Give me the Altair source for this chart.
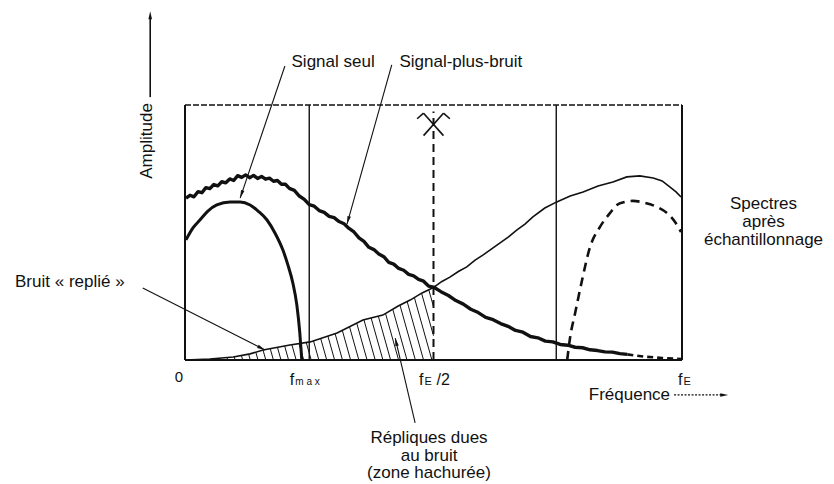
import math
import altair as alt
import numpy as np
import pandas as pd

FONT = "Liberation Sans"
INK = "#111111"

# frequency in % of fE, amplitude in % of box height
sn_f = [0.2, 1.0, 1.8, 2.6, 3.4, 4.2, 5.0, 5.8, 6.6, 7.4, 8.2, 9.0, 9.8, 10.6, 11.4, 12.2, 13.0, 13.8,
        14.6, 15.4, 16.2, 17.0, 17.8, 18.6, 19.4, 20.2, 21.0, 22.0, 23.0, 24.0, 25.0, 26.0, 27.0, 28.0,
        29.0, 30.0, 31.0, 32.0, 33.0, 34.0, 35.0, 36.0, 37.0, 38.0, 39.0, 40.0, 41.0, 42.0, 43.0, 44.0,
        45.0, 46.0, 47.0, 48.0, 49.0, 50.0, 51.5, 53.0, 54.5, 56.0, 57.5, 59.0, 60.5, 62.0, 63.5, 65.0,
        66.5, 68.0, 69.5, 71.0, 72.5, 74.0, 75.5, 77.0, 78.5, 80.0, 81.5, 83.0, 84.5, 86.0, 87.5, 89.0]
sn_a = [63.5, 64.6, 64.0, 66.0, 65.6, 67.6, 67.2, 68.8, 68.3, 69.9, 69.5, 71.0, 70.4, 72.3, 71.6, 72.6, 71.5, 72.4,
        71.2, 72.0, 70.9, 71.3, 70.1, 70.4, 68.9, 68.9, 67.3, 66.5, 64.3, 63.0, 60.9, 60.3, 58.6, 57.9,
        56.3, 55.8, 54.3, 53.4, 51.6, 50.2, 47.9, 46.5, 44.2, 43.3, 41.6, 40.5, 38.3, 37.6, 35.9, 35.2,
        33.6, 33.0, 31.6, 30.9, 29.0, 28.6, 26.8, 25.3, 23.3, 21.9, 19.9, 18.6, 16.7, 15.8, 14.3, 13.2,
        11.6, 10.9, 9.2, 8.7, 7.4, 7.1, 6.1, 5.8, 5.0, 4.8, 4.0, 3.7, 3.2, 3.1, 2.5, 2.2]
tail_f = [89.0, 92.5, 96.0, 100.0]
tail_a = [2.2, 1.3, 0.8, 0.4]

mir_f = [50.1, 51.7, 53.3, 55.0, 56.7, 58.3, 60.0, 61.7, 63.4, 65.1, 66.8, 68.4, 70.0, 72.4, 74.8,
         77.5, 80.1, 83.1, 86.1, 88.9, 91.5, 94.2, 96.0, 97.6, 98.8, 99.8]
mir_a = [28.6, 30.8, 32.5, 34.7, 36.5, 39.1, 41.2, 43.6, 45.9, 48.3, 51.0, 53.3, 56.1, 59.6, 62.0,
         64.3, 65.9, 68.2, 69.8, 71.8, 72.2, 71.4, 70.2, 67.8, 65.9, 63.9]

ss_f = [0.2, 1.6, 3.0, 4.6, 6.4, 9.1, 11.1, 13.1, 14.7, 16.5, 18.1, 19.7, 20.7, 21.7, 22.5, 23.1, 23.5]
ss_a = [47.1, 51.8, 54.9, 58.4, 60.8, 62.0, 62.0, 60.8, 58.4, 54.9, 49.8, 43.1, 37.3, 30.2, 21.6, 10.6, 0.0]

rep_f = [76.9, 77.5, 78.5, 79.9, 81.5, 83.5, 85.5, 86.9, 88.5, 90.1, 92.6, 95.0, 97.0, 98.6, 99.8]
rep_a = [0.0, 9.0, 18.4, 31.4, 44.3, 52.2, 57.6, 60.8, 62.0, 62.4, 61.6, 60.0, 57.6, 54.1, 50.2]

hat_f = [0.0, 5.0, 9.7, 13.1, 15.7, 21.1, 25.2, 30.6, 35.8, 39.8, 42.9, 45.3, 47.7, 50.0]
hat_a = [0.0, 0.4, 1.2, 2.4, 3.9, 5.9, 7.1, 10.6, 15.7, 17.6, 21.2, 23.5, 26.3, 28.4]

# frame segments (x, y, x2, y2)
frame_x = [0, 100, 25, 74.7, 0]
frame_y = [0, 0, 0, 0, 0]
frame_x2 = [0, 100, 25, 74.7, 100]
frame_y2 = [100, 100, 100, 100, 0]
frame_w = [2.0, 2.0, 1.4, 1.4, 2.0]

# fold symbol at fE/2
sym_x = [48.0, 52.0, 48.0, 52.0]
sym_y = [96.8, 96.8, 96.8, 96.8]
sym_x2 = [52.0, 48.0, 46.7, 53.3]
sym_y2 = [88.0, 88.0, 94.6, 94.6]

# leader lines: start -> arrow tip
lead_x1 = [20.1, 41.6, -8.5, 46.3, -7.0]
lead_y1 = [115.3, 115.7, 28.2, -24.7, 103.1]
lead_x2 = [11.1, 32.6, 16.1, 42.3, -7.0]
lead_y2 = [63.5, 53.3, 3.9, 8.6, 136.8]

freq_arrow = [98.4, -13.7, 109.3]  # x1, y, x_tip

PXX, PXY = 4.97, 2.55
W, H = 497, 255

xs = alt.Scale(domain=[0, 100], nice=False, zero=False)
ys = alt.Scale(domain=[0, 100], nice=False, zero=False)
X = alt.X("x:Q", scale=xs, axis=None)
Y = alt.Y("y:Q", scale=ys, axis=None)


def line(fx, ay, **mk):
    df = pd.DataFrame({"x": fx, "y": ay, "i": range(len(fx))})
    return alt.Chart(df).mark_line(color=INK, **mk).encode(x=X, y=Y, order="i:Q")


def rules(x1, y1, x2, y2, **mk):
    df = pd.DataFrame({"x": x1, "y": y1, "x2": x2, "y2": y2})
    return alt.Chart(df).mark_rule(color=INK, **mk).encode(x=X, y=Y, x2="x2:Q", y2="y2:Q")


def texts(rows, **mk):
    df = pd.DataFrame(rows, columns=["x", "y", "t"])
    base = dict(font=FONT, color=INK)
    base.update(mk)
    return alt.Chart(df).mark_text(**base).encode(x=X, y=Y, text="t:N")


layers = []

# frame
frame_df = pd.DataFrame({"x": frame_x, "y": frame_y, "x2": frame_x2, "y2": frame_y2, "w": frame_w})
layers.append(alt.Chart(frame_df).mark_rule(color=INK).encode(
    x=X, y=Y, x2="x2:Q", y2="y2:Q", strokeWidth=alt.StrokeWidth("w:Q", scale=None)))
layers.append(rules([0], [100], [100], [100], strokeWidth=1.3, strokeDash=[6, 2]))

# hatching under the folded-noise curve
hf = np.array(hat_f)
ha = np.array(hat_a)
tops = np.arange(1.2, 50.0, 1.45)
hx1, hy1, hx2, hy2 = [], [], [], []
for xt in tops:
    at = float(np.interp(xt, hf, ha))
    xb = xt + 0.144 * at
    if xb > 50.0:
        t = (50.0 - xt) / (xb - xt)
        hx2.append(50.0)
        hy2.append(at * (1 - t))
    else:
        hx2.append(xb)
        hy2.append(0.0)
    hx1.append(xt)
    hy1.append(at)
layers.append(rules(hx1, hy1, hx2, hy2, strokeWidth=1.0))
layers.append(line(hat_f, hat_a, strokeWidth=1.6))

# dashed fE/2 line and fold symbol
layers.append(rules([50], [0], [50], [97.5], strokeWidth=2, strokeDash=[8, 5]))
layers.append(rules(sym_x, sym_y, sym_x2, sym_y2, strokeWidth=1.6))

# curves
layers.append(line(sn_f, sn_a, strokeWidth=3.4, strokeJoin="round"))
layers.append(line(tail_f, tail_a, strokeWidth=2.6, strokeDash=[6, 4]))
layers.append(line(mir_f, mir_a, strokeWidth=1.6))
layers.append(line(ss_f, ss_a, strokeWidth=3, interpolate="monotone"))
layers.append(line(rep_f, rep_a, strokeWidth=2.6, strokeDash=[9, 6], interpolate="monotone"))

# leader lines
layers.append(rules(lead_x1[:4], lead_y1[:4], lead_x2[:4], lead_y2[:4], strokeWidth=1.1))
layers.append(rules(lead_x1[4:], lead_y1[4:], lead_x2[4:], [lead_y2[4] - 3], strokeWidth=1.6))
layers.append(rules([freq_arrow[0]], [freq_arrow[1]], [freq_arrow[2] - 1], [freq_arrow[1]],
                    strokeWidth=1.2, strokeDash=[2, 1.5]))

# arrowheads
ax, ay, ang = [], [], []
for x1, y1, x2, y2 in zip(lead_x1 + [freq_arrow[0]], lead_y1 + [freq_arrow[1]],
                          lead_x2 + [freq_arrow[2]], lead_y2 + [freq_arrow[1]]):
    dx = (x2 - x1) * PXX
    dy = -(y2 - y1) * PXY
    ang.append(math.degrees(math.atan2(dx, -dy)) % 360)
    ax.append(x2)
    ay.append(y2)
head_df = pd.DataFrame({"x": ax, "y": ay, "ang": ang})
layers.append(alt.Chart(head_df).mark_point(
    shape="M0,0L0.45,2L-0.45,2Z", filled=True, color=INK, opacity=1, size=64, strokeWidth=0
).encode(x=X, y=Y, angle=alt.Angle("ang:Q", scale=None)))

# labels
layers.append(texts([
    (29.8, 117.0, "Signal seul"),
    (55.5, 117.0, "Signal-plus-bruit"),
    (116.4, 61.0, "Spectres"),
    (116.4, 54.2, "après"),
    (116.4, 47.0, "échantillonnage"),
    (49.1, -30.6, "Répliques dues"),
    (49.1, -37.6, "au bruit"),
    (49.1, -44.3, "(zone hachurée)"),
], fontSize=17, align="center", baseline="middle"))
layers.append(texts([(-1.2, -6.5, "0")], fontSize=15, align="center", baseline="middle"))
layers.append(texts([(-34.2, 30.6, "Bruit « replié »")], fontSize=17, align="left", baseline="middle"))
layers.append(texts([(97.6, -13.9, "Fréquence")], fontSize=17, align="right", baseline="middle"))
layers.append(texts([(-7.6, 85.9, "Amplitude")], fontSize=17, align="center", baseline="middle", angle=270))
layers.append(texts([(21.1, -9.8, "f"), (47.1, -9.8, "f"), (50.6, -9.8, "/2"), (99.2, -9.8, "f")],
                    fontSize=16, align="left", baseline="alphabetic"))
layers.append(texts([(22.2, -9.8, "m a x")], fontSize=10, align="left", baseline="alphabetic"))
layers.append(texts([(48.2, -9.8, "E"), (100.3, -9.8, "E")], fontSize=11, align="left", baseline="alphabetic"))

chart = alt.layer(*layers).properties(
    width=W, height=H,
    padding={"left": 177, "top": 97, "right": 144, "bottom": 122},
    autosize=alt.AutoSizeParams(type="none"),
    background="white",
).configure_view(stroke=None)

chart.save("out.html", embed_options={"renderer": "svg", "actions": False})
